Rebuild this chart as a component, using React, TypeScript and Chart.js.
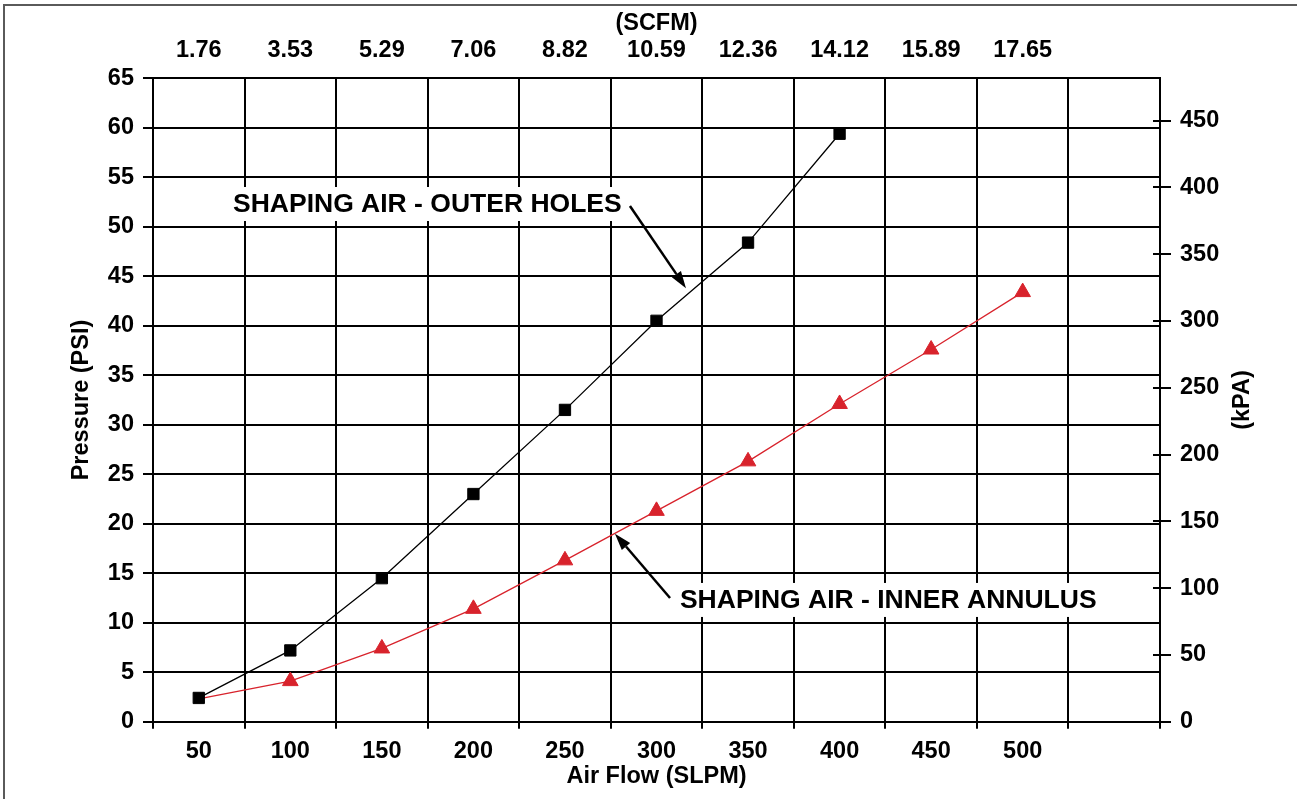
import React, { useEffect, useRef } from 'react';
import { Chart, registerables } from 'chart.js';

Chart.register(...registerables);

// ---- data ----
const flowSLPM = [50, 100, 150, 200, 250, 300, 350, 400, 450, 500];
const scfmLabels = ['1.76', '3.53', '5.29', '7.06', '8.82', '10.59', '12.36', '14.12', '15.89', '17.65'];
const outerHolesPSI = [2.4, 7.2, 14.5, 23.0, 31.5, 40.5, 48.4, 59.4];
const innerAnnulusPSI = [2.3, 4.1, 7.4, 11.4, 16.3, 21.3, 26.3, 32.1, 37.6, 43.4];
const psiTicks = [0, 5, 10, 15, 20, 25, 30, 35, 40, 45, 50, 55, 60, 65];
const kpaTicks = [0, 50, 100, 150, 200, 250, 300, 350, 400, 450];
const flowGridTicks = [25, 50, 75, 100, 125, 150, 175, 200, 225, 250, 275, 300, 325, 350, 375, 400, 425, 450, 475, 500, 525, 550, 575];

const outerLabel = 'SHAPING AIR - OUTER HOLES';
const innerLabel = 'SHAPING AIR - INNER ANNULUS';

// annotation placement (data units)
const notes = [
  { text: outerLabel, tx: 68.7, ty: 52.3, tail: [285.5, 52.1], tip: [316.1, 43.8] },
  { text: innerLabel, tx: 312.8, ty: 12.3, tail: [307.4, 12.5], tip: [277.3, 19.0] },
];

const FONT = '"Liberation Sans", Arial, Helvetica, sans-serif';
const RED = '#d8232c';

const notesPlugin = {
  id: 'notesPlugin',
  beforeDatasetsDraw(chart: any) {
    const { ctx, scales } = chart;
    const x = scales.x;
    const y = scales.y;
    ctx.save();
    ctx.font = `bold 26.5px ${FONT}`;
    ctx.textBaseline = 'middle';
    ctx.textAlign = 'left';
    for (const n of notes) {
      const px = x.getPixelForValue(n.tx);
      const py = y.getPixelForValue(n.ty);
      const w = ctx.measureText(n.text).width;
      ctx.fillStyle = '#ffffff';
      ctx.fillRect(px - 4, py - 17, w + 8, 34);
      ctx.fillStyle = '#000000';
      ctx.fillText(n.text, px, py + 1);
      // arrow
      const x0 = x.getPixelForValue(n.tail[0]);
      const y0 = y.getPixelForValue(n.tail[1]);
      const x1 = x.getPixelForValue(n.tip[0]);
      const y1 = y.getPixelForValue(n.tip[1]);
      const ang = Math.atan2(y1 - y0, x1 - x0);
      const headLen = 17;
      const headW = 5.5;
      const bx = x1 - Math.cos(ang) * headLen;
      const by = y1 - Math.sin(ang) * headLen;
      ctx.strokeStyle = '#000';
      ctx.lineWidth = 2.5;
      ctx.beginPath();
      ctx.moveTo(x0, y0);
      ctx.lineTo(bx, by);
      ctx.stroke();
      ctx.beginPath();
      ctx.moveTo(x1, y1);
      ctx.lineTo(bx + Math.sin(ang) * headW, by - Math.cos(ang) * headW);
      ctx.lineTo(bx - Math.sin(ang) * headW, by + Math.cos(ang) * headW);
      ctx.closePath();
      ctx.fillStyle = '#000';
      ctx.fill();
    }
    ctx.restore();
  },
  afterDraw(chart: any) {
    const { ctx, scales, chartArea } = chart;
    const y2 = scales.y2;
    ctx.save();
    // inner half of right-axis tick marks
    ctx.strokeStyle = '#000';
    ctx.lineWidth = 2;
    for (const t of kpaTicks) {
      const py = Math.round(y2.getPixelForValue(t));
      ctx.beginPath();
      ctx.moveTo(chartArea.right - 7, py);
      ctx.lineTo(chartArea.right, py);
      ctx.stroke();
    }
    // right axis title, reading bottom-to-top
    ctx.fillStyle = '#000';
    ctx.font = `bold 23.5px ${FONT}`;
    ctx.textAlign = 'center';
    ctx.textBaseline = 'middle';
    ctx.translate(1243, (chartArea.top + chartArea.bottom) / 2);
    ctx.rotate(-Math.PI / 2);
    ctx.fillText('(kPA)', 0, 0);
    ctx.restore();
    // outer frame
    ctx.save();
    ctx.strokeStyle = '#5a5a5a';
    ctx.lineWidth = 2;
    ctx.beginPath();
    ctx.moveTo(4, chart.height);
    ctx.lineTo(4, 5);
    ctx.lineTo(chart.width, 5);
    ctx.stroke();
    ctx.restore();
  },
};

export default function App() {
  const ref = useRef<HTMLCanvasElement | null>(null);

  useEffect(() => {
    if (!ref.current) return;
    const tickFont = { family: FONT, size: 23.5, weight: 'bold' as const };
    const chart = new Chart(ref.current, {
      type: 'line',
      data: {
        datasets: [
          {
            label: outerLabel,
            data: outerHolesPSI.map((v, i) => ({ x: flowSLPM[i], y: v })),
            borderColor: '#000',
            backgroundColor: '#000',
            borderWidth: 1.3,
            pointStyle: 'rect',
            pointRadius: 8,
            pointBorderWidth: 1,
            pointBorderColor: '#000',
            pointBackgroundColor: '#000',
            xAxisID: 'x',
            yAxisID: 'y',
          },
          {
            label: innerLabel,
            data: innerAnnulusPSI.map((v, i) => ({ x: flowSLPM[i], y: v })),
            borderColor: RED,
            backgroundColor: RED,
            borderWidth: 1.3,
            pointStyle: 'triangle',
            pointRadius: (c: any) => (c.dataIndex === 0 ? 0 : 9),
            pointBorderWidth: 1,
            pointBorderColor: RED,
            pointBackgroundColor: RED,
            xAxisID: 'x',
            yAxisID: 'y',
          },
        ],
      },
      options: {
        animation: false,
        responsive: true,
        maintainAspectRatio: false,
        layout: { padding: 0 },
        plugins: { legend: { display: false }, tooltip: { enabled: false } },
        scales: {
          x: {
            type: 'linear',
            position: 'bottom',
            min: 25,
            max: 575,
            afterBuildTicks: (s: any) => {
              s.ticks = flowGridTicks.map((v) => ({ value: v }));
            },
            afterFit: (s: any) => {
              s.height = 77.3;
            },
            grid: {
              color: (c: any) => (c.tick && c.tick.value % 50 !== 0 ? '#000' : 'rgba(0,0,0,0)'),
              lineWidth: 2,
              tickLength: 7,
            },
            border: { display: false },
            ticks: {
              autoSkip: false,
              maxRotation: 0,
              padding: 8.5,
              color: '#000',
              font: tickFont,
              callback: (v: any) => (v % 50 === 0 && v <= 500 ? String(v) : ''),
            },
            title: {
              display: true,
              text: 'Air Flow (SLPM)',
              color: '#000',
              font: tickFont,
              padding: { top: 0, bottom: 8 },
            },
          },
          x2: {
            type: 'linear',
            position: 'top',
            min: 25,
            max: 575,
            afterBuildTicks: (s: any) => {
              s.ticks = flowSLPM.map((v) => ({ value: v }));
            },
            afterFit: (s: any) => {
              s.height = 78.3;
            },
            grid: { display: false },
            border: { display: false },
            ticks: {
              autoSkip: false,
              maxRotation: 0,
              padding: 6,
              color: '#000',
              font: tickFont,
              callback: (_v: any, i: number) => scfmLabels[i],
            },
            title: {
              display: true,
              text: '(SCFM)',
              color: '#000',
              font: tickFont,
              padding: { top: 9, bottom: 0 },
            },
          },
          y: {
            type: 'linear',
            position: 'left',
            min: 0,
            max: 65,
            afterBuildTicks: (s: any) => {
              s.ticks = psiTicks.map((v) => ({ value: v }));
            },
            afterFit: (s: any) => {
              s.width = 153;
            },
            grid: { color: '#000', lineWidth: 2, tickLength: 10 },
            border: { display: true, color: '#000', width: 2 },
            ticks: { padding: 9, color: '#000', font: tickFont },
            title: {
              display: true,
              text: 'Pressure (PSI)',
              color: '#000',
              font: tickFont,
              padding: { top: 67, bottom: 0 },
            },
          },
          y2: {
            type: 'linear',
            position: 'right',
            min: 0,
            max: 481.7,
            afterBuildTicks: (s: any) => {
              s.ticks = kpaTicks.map((v) => ({ value: v }));
            },
            afterFit: (s: any) => {
              s.width = 137;
            },
            grid: { drawOnChartArea: false, color: '#000', lineWidth: 2, tickLength: 11 },
            border: { display: true, color: '#000', width: 2 },
            ticks: { padding: 9, color: '#000', font: tickFont },
          },
        },
      },
      plugins: [notesPlugin],
    });
    return () => chart.destroy();
  }, []);

  return (
    <div style={{ position: 'fixed', left: 0, top: 0, width: 1297, height: 799, background: '#fff' }}>
      <canvas ref={ref} />
    </div>
  );
}
